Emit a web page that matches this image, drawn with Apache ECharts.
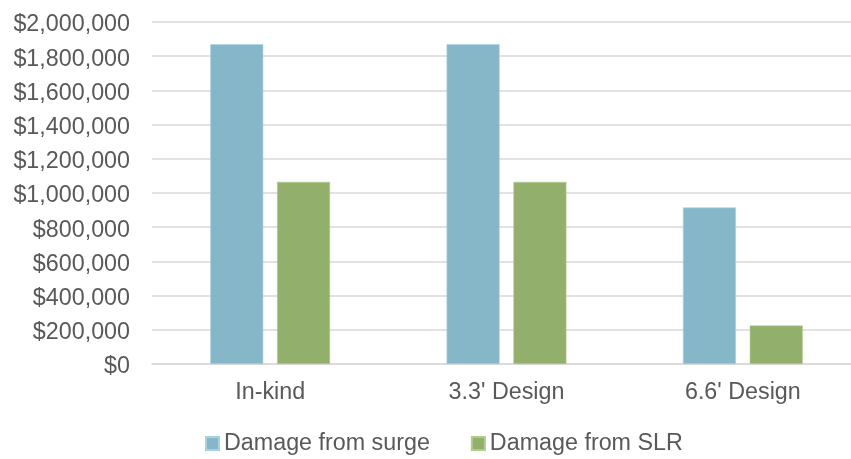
<!DOCTYPE html>
<html>
<head>
<meta charset="utf-8">
<style>
  html, body { margin: 0; padding: 0; background: #ffffff; overflow: hidden; }
  /* the plot area runs slightly past the right edge of the window */
  #chart { width: 862px; height: 459px; }
</style>
<script src="https://cdn.jsdelivr.net/npm/echarts@6/dist/echarts.min.js"></script>
</head>
<body>
<div id="chart"></div>
<script>
// Design scenarios along the x axis
const categories = ["In-kind", "3.3' Design", "6.6' Design"];

// Estimated damage in dollars per scenario
const surgeDamage = [1870000, 1870000, 915000];
const slrDamage = [1065000, 1065000, 225000];

const seriesNames = ["Damage from surge", "Damage from SLR"];

// Value axis range and step
const yMin = 0;
const yMax = 2000000;
const yStep = 200000;

const textColor = '#595959';
const gridColor = '#d9d9d9';
const fontFamily = 'Liberation Sans, Arial, sans-serif';
const fontSize = 23.3;

const chart = echarts.init(document.getElementById('chart'), null, { renderer: 'canvas' });

chart.setOption({
  animation: false,
  backgroundColor: '#ffffff',
  textStyle: { fontFamily: fontFamily },
  grid: {
    left: 152,
    top: 22,
    width: 709,
    height: 342,
    containLabel: false
  },
  legend: {
    left: 205,
    top: 432,
    padding: 0,
    itemWidth: 13,
    itemHeight: 13,
    itemGap: 41,
    icon: 'rect',
    textStyle: { color: textColor, fontSize: fontSize, fontFamily: fontFamily },
    data: seriesNames
  },
  xAxis: {
    type: 'category',
    data: categories,
    axisLine: { show: true, lineStyle: { color: gridColor, width: 1.5 } },
    axisTick: { show: false },
    axisLabel: { color: textColor, fontSize: fontSize, fontFamily: fontFamily, margin: 17 }
  },
  yAxis: {
    type: 'value',
    min: yMin,
    max: yMax,
    interval: yStep,
    axisLine: { show: false },
    axisTick: { show: false },
    splitLine: { show: true, lineStyle: { color: gridColor, width: 1.5 } },
    axisLabel: {
      margin: 22,
      formatter: function (v) { return '{v|$' + v.toLocaleString('en-US') + '}'; },
      rich: {
        v: { color: textColor, fontSize: fontSize, fontFamily: fontFamily, padding: [6, 0, 0, 0] }
      }
    }
  },
  series: [
    {
      name: seriesNames[0],
      type: 'bar',
      data: surgeDamage,
      barWidth: 53,
      barGap: '26%',
      itemStyle: { color: '#85b7c8', borderColor: '#a9d2e0', borderWidth: 0.6 }
    },
    {
      name: seriesNames[1],
      type: 'bar',
      data: slrDamage,
      barWidth: 53,
      barGap: '26%',
      itemStyle: { color: '#93af6c', borderColor: '#b3cc8e', borderWidth: 0.6 }
    }
  ]
});
</script>
</body>
</html>
